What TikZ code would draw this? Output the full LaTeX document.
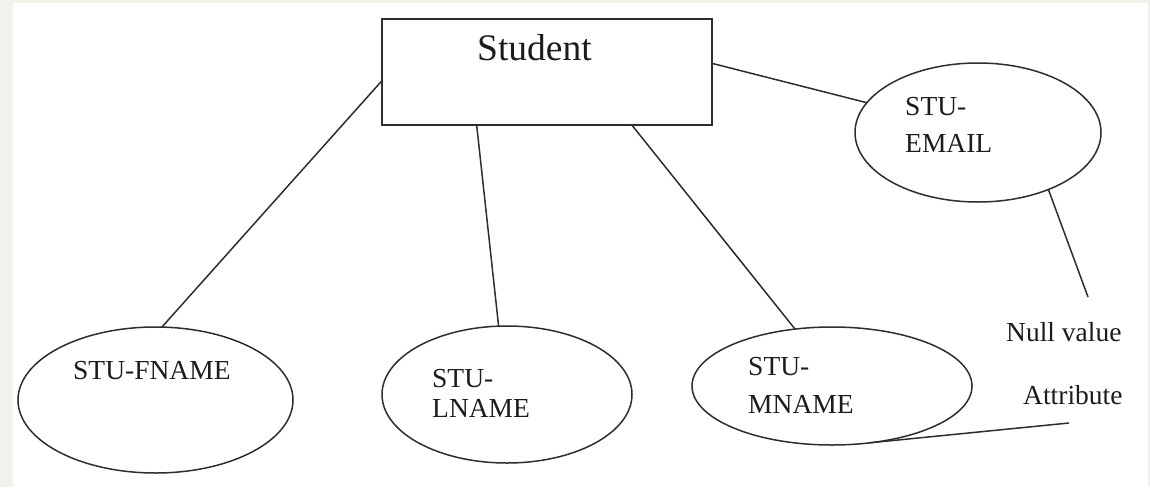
\documentclass[tikz,border=0pt]{standalone}
\usepackage{fontspec}
\setmainfont{Liberation Serif}
\usetikzlibrary{shapes.geometric}
\definecolor{paper}{HTML}{F2F1EC}
\definecolor{ink}{HTML}{1C1C1C}
\definecolor{edge}{HTML}{2E2E2E}
\begin{document}
\begin{tikzpicture}[x=1pt,y=-1pt,
  entitybox/.style={draw=edge,line width=1.7pt,rectangle,inner sep=0pt,outer sep=0pt,
    minimum width=330pt,minimum height=106pt},
  attr/.style={draw=edge,line width=1.5pt,ellipse,inner sep=0pt,outer sep=0pt},
  lbl/.style={anchor=base west,inner sep=0pt,text=ink,font=\fontsize{27.5}{33}\selectfont},
  title/.style={anchor=base west,inner sep=0pt,text=ink,font=\fontsize{37.5}{45}\selectfont},
  link/.style={draw=edge,line width=1.5pt}]
  % page with a pale frame on the left, top and right
  \fill[paper] (0,0) rectangle (1150,487);
  \fill[white] (13,3) rectangle (1148,487);
  \useasboundingbox (0,0) rectangle (1150,487);

  % entity
  \node[entitybox] (student) at (547,72) {};
  \node[title] (studentText) at (477,60) {Student};

  % attributes
  \node[attr,minimum width=275pt,minimum height=146pt] (fname) at (155.5,400) {};
  \node[lbl] (fnameText) at (73,379) {STU-FNAME};

  \node[attr,minimum width=250pt,minimum height=137pt] (lname) at (507,394.5) {};
  \node[lbl] (lnameA) at (432,387) {STU-};
  \node[lbl] (lnameB) at (432,417) {LNAME};

  \node[attr,minimum width=280pt,minimum height=118pt] (mname) at (832,386) {};
  \node[lbl] (mnameA) at (748,375) {STU-};
  \node[lbl] (mnameB) at (748,413) {MNAME};

  \node[attr,minimum width=246pt,minimum height=139pt] (email) at (978,132.5) {};
  \node[lbl] (emailA) at (905,115) {STU-};
  \node[lbl] (emailB) at (905,152) {EMAIL};

  % notes
  \node[lbl] (nullText) at (1006,341) {Null value};
  \node[lbl] (attrText) at (1023,404) {Attribute};
  \coordinate (nullEnd) at (1088,297);
  \coordinate (attrEnd) at (1069,423);

  % connectors
  \draw[link] (student.183) -- (fname.85);
  \draw[link] (student.217) -- (lname.97.5);
  \draw[link] (student.-32) -- (mname.123);
  \draw[link] (student.3.5) -- (email.165);
  \draw[link] (email.-39) -- (nullEnd);
  \draw[link] (mname.-56) -- (attrEnd);
\end{tikzpicture}
\end{document}
